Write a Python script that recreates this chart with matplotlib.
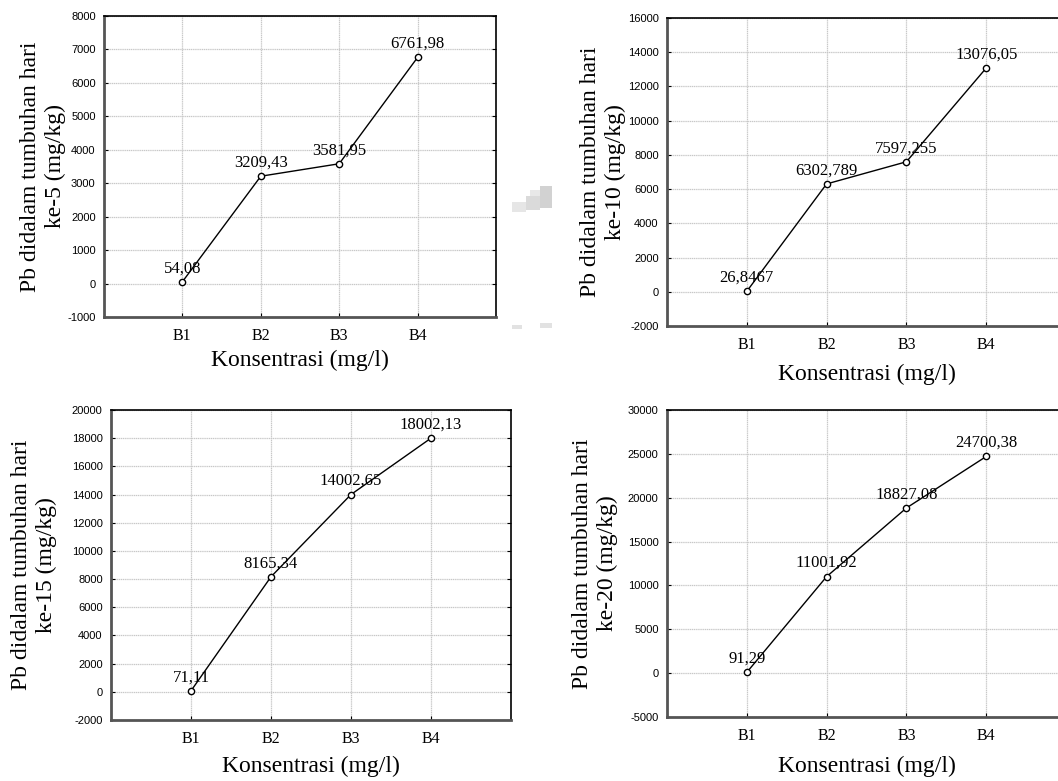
import matplotlib.pyplot as plt
from matplotlib.patches import Rectangle
from matplotlib.ticker import MultipleLocator

plt.rcParams["axes.unicode_minus"] = False

W, H = 1058, 781

categories = ["B1", "B2", "B3", "B4"]
days = ["ke-5", "ke-10", "ke-15", "ke-20"]

pb_day5 = [54.08, 3209.43, 3581.95, 6761.98]
pb_day10 = [26.8467, 6302.789, 7597.255, 13076.05]
pb_day15 = [71.11, 8165.34, 14002.65, 18002.13]
pb_day20 = [91.29, 11001.92, 18827.08, 24700.38]

labels_day5 = ["54,08", "3209,43", "3581,95", "6761,98"]
labels_day10 = ["26,8467", "6302,789", "7597,255", "13076,05"]
labels_day15 = ["71,11", "8165,34", "14002,65", "18002,13"]
labels_day20 = ["91,29", "11001,92", "18827,08", "24700,38"]

series = [pb_day5, pb_day10, pb_day15, pb_day20]
point_labels = [labels_day5, labels_day10, labels_day15, labels_day20]
ylims = [(-1000, 8000), (-2000, 16000), (-2000, 20000), (-5000, 30000)]
ysteps = [1000, 2000, 2000, 5000]

# panel boxes in pixels: left, top, right, bottom
boxes = [(104, 16, 496, 317), (667, 18, 1066, 326),
         (111, 410, 511, 720), (667, 410, 1066, 717)]
# right edge of the two-line y label, and centre line of the x label (px)
ylabel_x = [66, 626, 57, 618]
xlabel_y = [360, 374, 766, 766]

serif = "Liberation Serif"
sans = "Liberation Sans"

fig = plt.figure(figsize=(W / 100, H / 100), dpi=100)

for i in range(4):
    l, t, r, b = boxes[i]
    ax = fig.add_axes([l / W, 1 - b / H, (r - l) / W, (b - t) / H])

    xs = list(range(1, len(categories) + 1))
    ax.plot(xs, series[i], color="black", lw=1.0, marker="o", ms=4.5,
            mfc="white", mec="black", mew=1.0, zorder=3)

    for x, y, txt in zip(xs, series[i], point_labels[i]):
        ax.annotate(txt, (x, y), xytext=(0, 4), textcoords="offset points",
                    ha="center", va="bottom", fontsize=12, family=serif)

    ax.set_xlim(0, 5)
    ax.set_xticks(xs)
    ax.set_xticklabels(categories, family=serif, fontsize=11.5)
    ax.set_ylim(*ylims[i])
    ax.yaxis.set_major_locator(MultipleLocator(ysteps[i]))
    for lab in ax.get_yticklabels():
        lab.set_family(sans)
        lab.set_fontsize(8)

    ax.grid(True, color="#c8c8c8", lw=0.9, ls=(0, (1, 0.5)))
    ax.set_axisbelow(True)

    ax.tick_params(axis="x", direction="in", length=3, pad=8, colors="black")
    ax.tick_params(axis="y", direction="in", length=3, pad=6,
                   left=True, right=True, colors="black")

    for side in ["left", "bottom"]:
        ax.spines[side].set_color("#555555")
        ax.spines[side].set_linewidth(2.0)
    for side in ["top", "right"]:
        ax.spines[side].set_color("black")
        ax.spines[side].set_linewidth(1.2)

    xl = ax.set_xlabel("Konsentrasi (mg/l)", family=serif, fontsize=17)
    xl.set_va("center")
    ax.xaxis.set_label_coords(0.5, (b - xlabel_y[i]) / (b - t))
    ax.set_ylabel("Pb didalam tumbuhan hari\n" + days[i] + " (mg/kg)",
                  family=serif, fontsize=17, linespacing=1.22)
    ax.yaxis.set_label_coords((ylabel_x[i] - l) / (r - l), 0.5)

# faint scan smudges between the top panels
smudges = [(512, 202, 14, 10, "#e6e6e6"), (526, 196, 14, 14, "#dadada"),
           (540, 186, 12, 22, "#d2d2d2"), (530, 190, 10, 6, "#e8e8e8"),
           (512, 325, 10, 4, "#e2e2e2"), (540, 323, 12, 5, "#e2e2e2")]
for x0, y0, w, h, c in smudges:
    fig.patches.append(Rectangle((x0 / W, 1 - (y0 + h) / H), w / W, h / H,
                                 transform=fig.transFigure, color=c, lw=0))

fig.savefig("out.png", dpi=100)
